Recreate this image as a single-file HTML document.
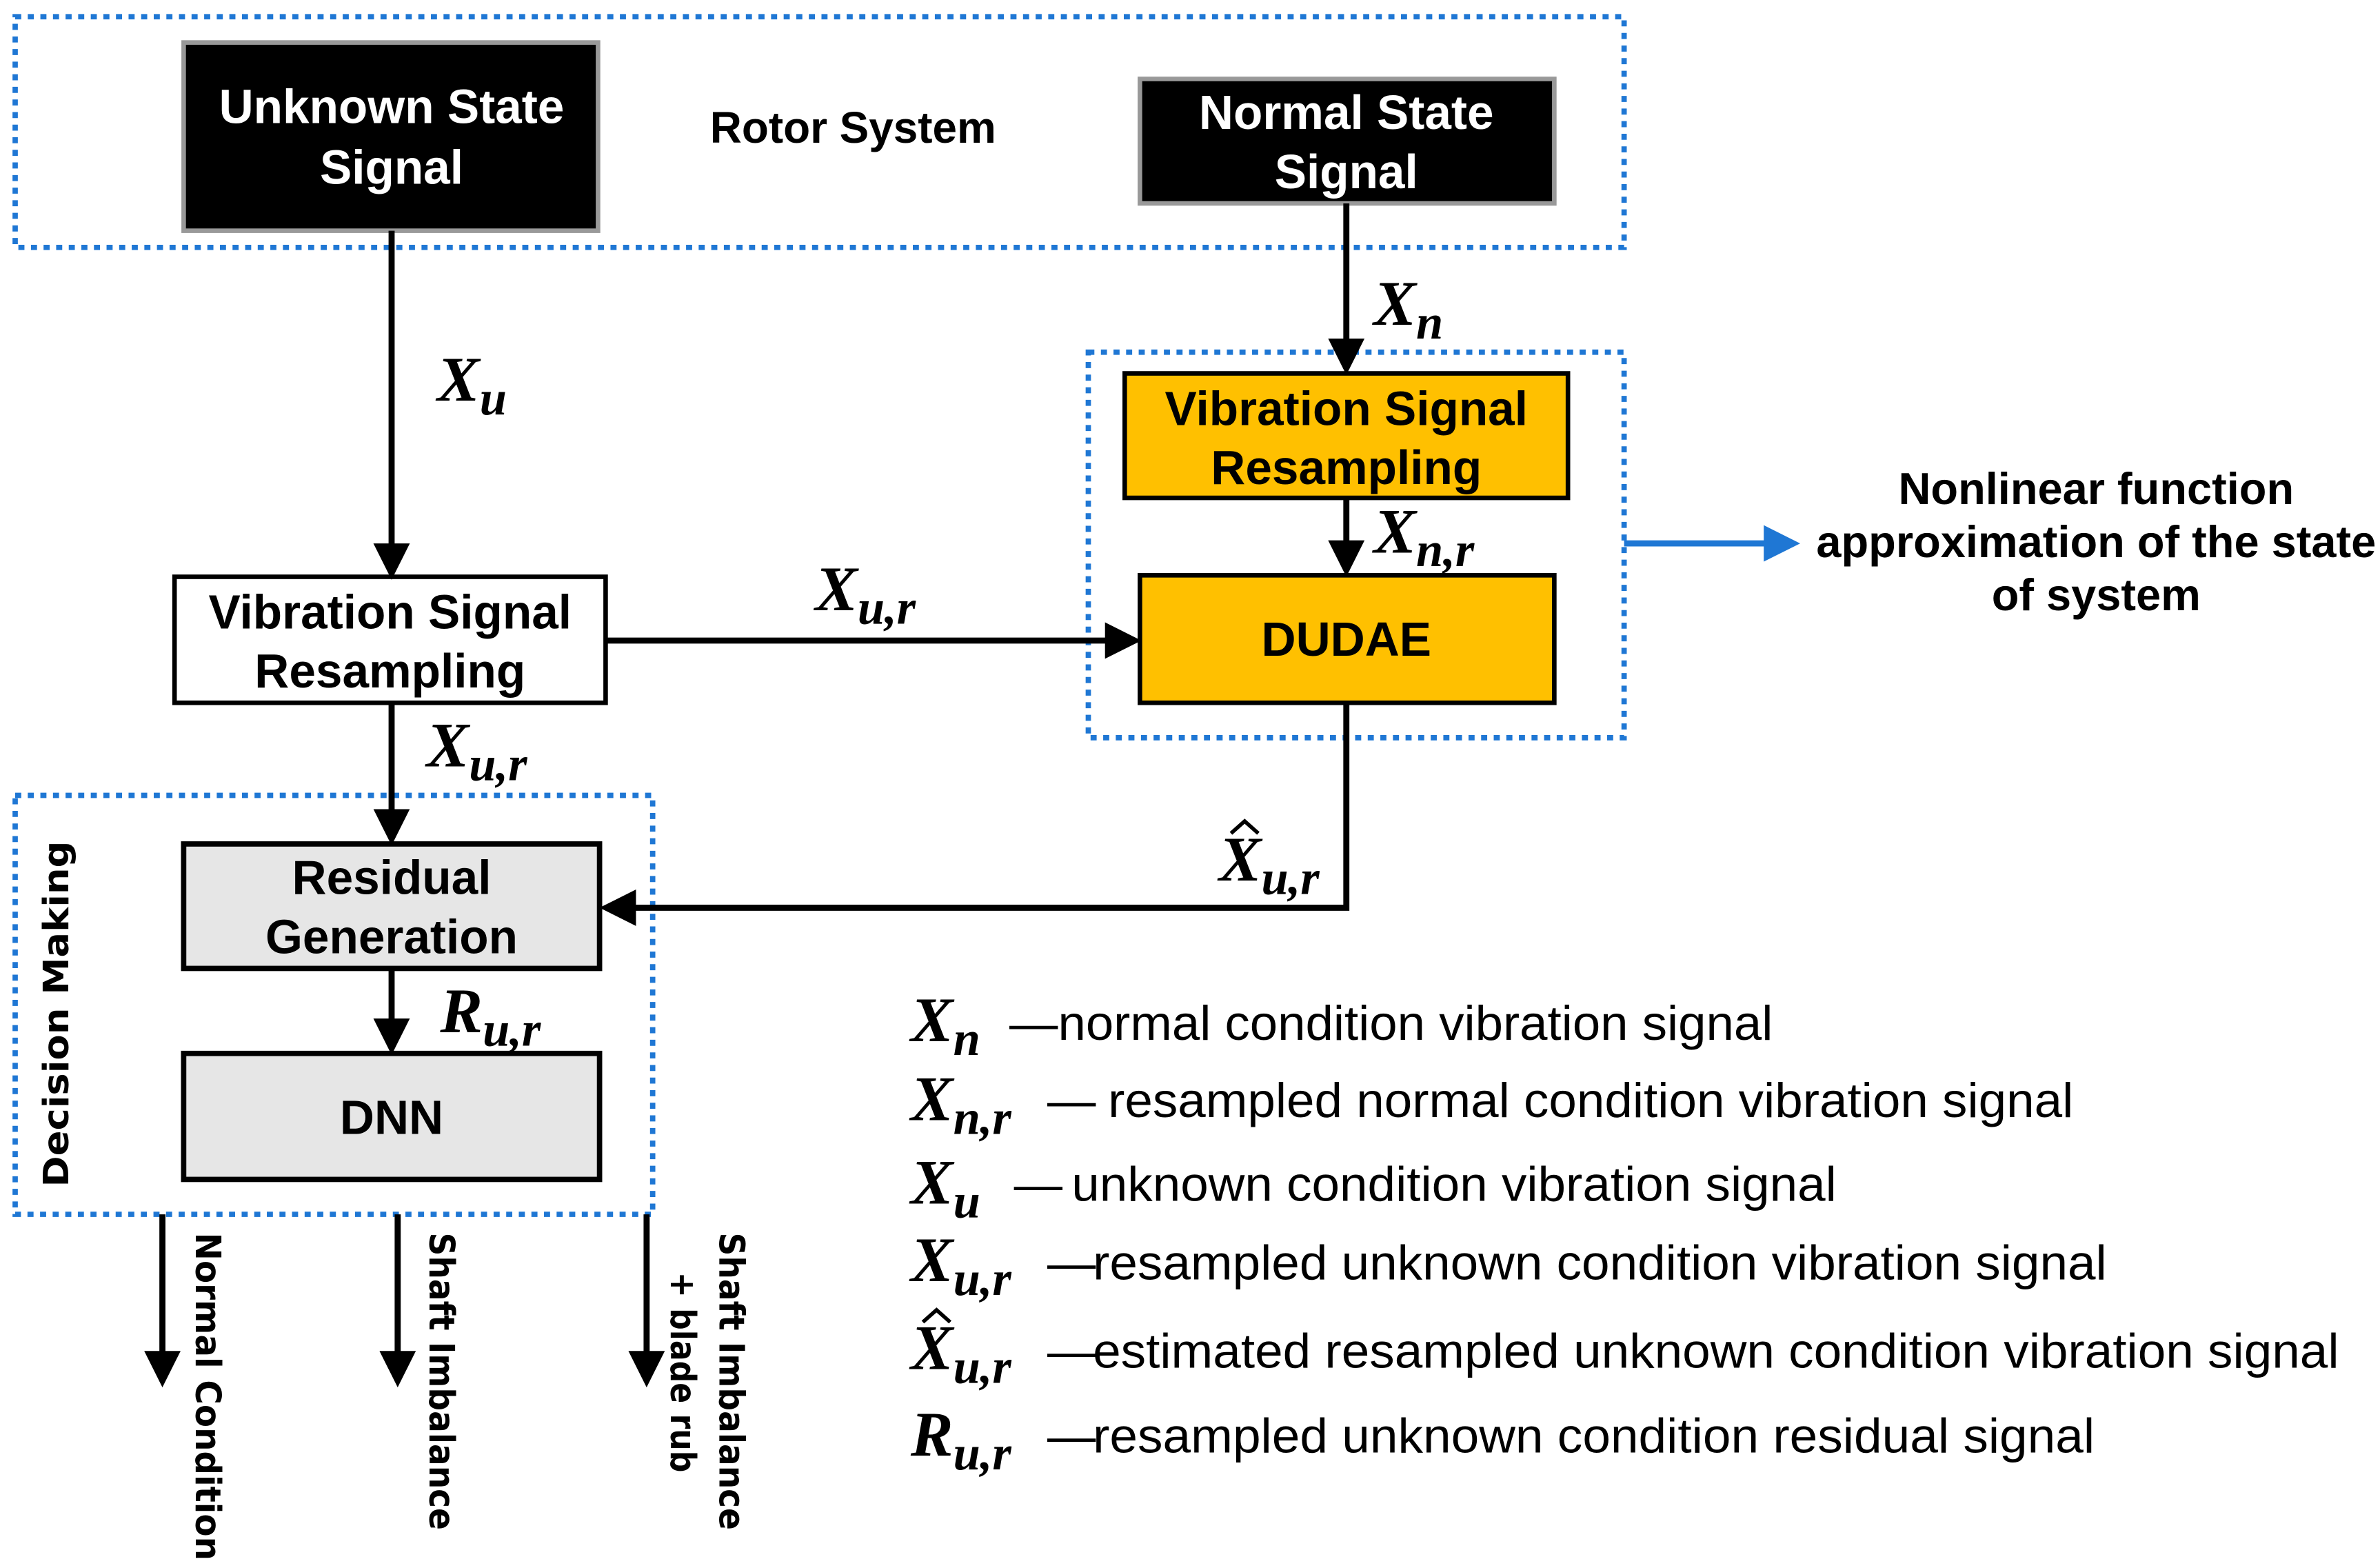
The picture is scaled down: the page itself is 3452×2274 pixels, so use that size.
<!DOCTYPE html>
<html><head><meta charset="utf-8"><style>
html,body{margin:0;padding:0;background:#fff;}
svg{display:block;}
.b{font-family:"Liberation Sans",Arial,sans-serif;font-weight:bold;}
.m{font-family:"Liberation Serif","DejaVu Serif",serif;font-weight:bold;font-style:italic;}
.l{font-family:"Liberation Sans",Arial,sans-serif;}
.r{font-family:"DejaVu Sans",sans-serif;font-weight:bold;}
</style></head><body>
<svg width="3452" height="2274" viewBox="0 0 1568 1033" preserveAspectRatio="none" xmlns="http://www.w3.org/2000/svg">
<defs>
<marker id="ah" markerWidth="6" markerHeight="6" refX="5" refY="3" orient="auto" markerUnits="strokeWidth"><path d="M0,0 L6,3 L0,6 z" fill="#000"/></marker>
<marker id="bh" markerWidth="6" markerHeight="6" refX="5" refY="3" orient="auto" markerUnits="strokeWidth"><path d="M0,0 L6,3 L0,6 z" fill="#1f77d4"/></marker>
</defs>
<g fill="none" stroke="#1f77d4" stroke-width="3.5" stroke-dasharray="4 4.3">
<rect x="10" y="11" width="1060" height="152"/>
<rect x="717" y="232" width="353" height="254"/>
<rect x="10" y="524" width="420" height="276"/>
</g>
<rect x="121" y="28" width="273" height="124" fill="#000" stroke="#999" stroke-width="3"/>
<rect x="751" y="52" width="273" height="82" fill="#000" stroke="#999" stroke-width="3"/>
<rect x="741" y="246" width="292" height="82" fill="#ffc000" stroke="#000" stroke-width="3"/>
<rect x="751" y="379" width="273" height="84" fill="#ffc000" stroke="#000" stroke-width="3"/>
<rect x="115" y="380" width="284" height="83" fill="#fff" stroke="#000" stroke-width="3"/>
<rect x="121" y="556" width="274" height="82" fill="#e6e6e6" stroke="#000" stroke-width="3.5"/>
<rect x="121" y="694" width="274" height="83" fill="#e6e6e6" stroke="#000" stroke-width="3.5"/>
<g class="b" font-size="31.5" text-anchor="middle">
<text x="258" y="81" fill="#fff">Unknown State</text>
<text x="258" y="121" fill="#fff">Signal</text>
<text x="887" y="85" fill="#fff">Normal State</text>
<text x="887" y="124" fill="#fff">Signal</text>
<text x="887" y="280">Vibration Signal</text>
<text x="887" y="319">Resampling</text>
<text x="887" y="432">DUDAE</text>
<text x="257" y="414">Vibration Signal</text>
<text x="257" y="453">Resampling</text>
<text x="258" y="589">Residual</text>
<text x="258" y="628">Generation</text>
<text x="258" y="747">DNN</text>
</g>
<text class="b" font-size="29" x="562" y="94" text-anchor="middle">Rotor System</text>
<g class="b" font-size="29.5" text-anchor="middle">
<text x="1381" y="332">Nonlinear function</text>
<text x="1381" y="367">approximation of the state</text>
<text x="1381" y="402">of system</text>
</g>
<g stroke="#000" stroke-width="4" fill="none" marker-end="url(#ah)">
<line x1="258" y1="152" x2="258" y2="378"/>
<line x1="887" y1="134" x2="887" y2="243"/>
<line x1="887" y1="328" x2="887" y2="376"/>
<line x1="399" y1="422" x2="748" y2="422"/>
<line x1="258" y1="463" x2="258" y2="553"/>
<polyline points="887,463 887,598 399,598"/>
<line x1="258" y1="638" x2="258" y2="691"/>
<line x1="107" y1="800" x2="107" y2="910"/>
<line x1="262" y1="800" x2="262" y2="910"/>
<line x1="426" y1="800" x2="426" y2="910"/>
</g>
<line x1="1070" y1="358" x2="1182" y2="358" stroke="#1f77d4" stroke-width="4" marker-end="url(#bh)"/>
<g class="m">
<text x="288" y="264" font-size="42">X<tspan font-size="32" dy="9">u</tspan></text>
<text x="905" y="214" font-size="42">X<tspan font-size="32" dy="9">n</tspan></text>
<text x="905" y="364" font-size="42">X<tspan font-size="32" dy="9">n,r</tspan></text>
<text x="537" y="402" font-size="42">X<tspan font-size="32" dy="9">u,r</tspan></text>
<text x="281" y="505" font-size="42">X<tspan font-size="32" dy="9">u,r</tspan></text>
<text x="290" y="680" font-size="42">R<tspan font-size="32" dy="9">u,r</tspan></text>
<text x="803" y="580" font-size="42">X<tspan font-size="32" dy="9">u,r</tspan></text>
</g>
<g class="m" font-size="42">
<text x="600" y="686">X<tspan font-size="32" dy="9">n</tspan></text>
<text x="600" y="738">X<tspan font-size="32" dy="9">n,r</tspan></text>
<text x="600" y="793">X<tspan font-size="32" dy="9">u</tspan></text>
<text x="600" y="844">X<tspan font-size="32" dy="9">u,r</tspan></text>
<text x="600" y="902">X<tspan font-size="32" dy="9">u,r</tspan></text>
<text x="600" y="959">R<tspan font-size="32" dy="9">u,r</tspan></text>
</g>
<g fill="none" stroke="#000" stroke-width="2.5">
<path d="M811,549 L820,541 L829,549"/>
<path d="M608,871 L617,863 L626,871"/>
</g>
<g class="l" font-size="32">
<text x="665" y="685">—</text><text x="697" y="685" textLength="471" lengthAdjust="spacingAndGlyphs">normal condition vibration signal</text>
<text x="690" y="736">—</text><text x="730" y="736" textLength="636" lengthAdjust="spacingAndGlyphs">resampled normal condition vibration signal</text>
<text x="668" y="791">—</text><text x="706" y="791" textLength="504" lengthAdjust="spacingAndGlyphs">unknown condition vibration signal</text>
<text x="690" y="843">—</text><text x="720" y="843" textLength="668" lengthAdjust="spacingAndGlyphs">resampled unknown condition vibration signal</text>
<text x="690" y="901">—</text><text x="720" y="901" textLength="821" lengthAdjust="spacingAndGlyphs">estimated resampled unknown condition vibration signal</text>
<text x="690" y="957">—</text><text x="720" y="957" textLength="660" lengthAdjust="spacingAndGlyphs">resampled unknown condition residual signal</text>
</g>
<text class="r" font-size="23" transform="translate(45,668) rotate(-90)" text-anchor="middle" textLength="228" lengthAdjust="spacingAndGlyphs">Decision Making</text>
<text class="r" font-size="23" transform="translate(129,812) rotate(90)" textLength="216" lengthAdjust="spacingAndGlyphs">Normal Condition</text>
<text class="r" font-size="23" transform="translate(283,812) rotate(90)" textLength="196" lengthAdjust="spacingAndGlyphs">Shaft Imbalance</text>
<text class="r" font-size="23" transform="translate(474,812) rotate(90)" textLength="196" lengthAdjust="spacingAndGlyphs">Shaft Imbalance</text>
<text class="r" font-size="23" transform="translate(442,838) rotate(90)" textLength="132" lengthAdjust="spacingAndGlyphs">+ blade rub</text>
</svg>
</body></html>
